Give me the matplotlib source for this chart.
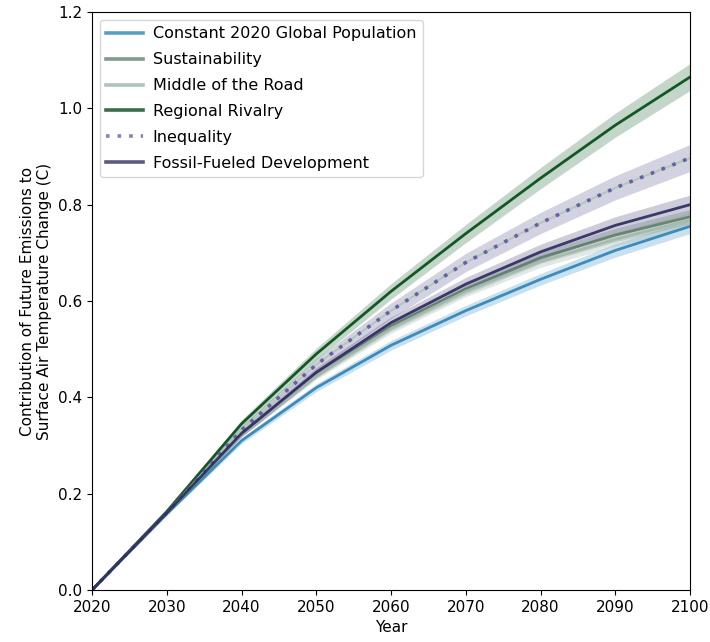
import matplotlib
matplotlib.use("Agg")
import matplotlib.pyplot as plt
from matplotlib.lines import Line2D
import numpy as np

years = [2020, 2030, 2040, 2050, 2060, 2070, 2080, 2090, 2100]

constant_pop = [0.0, 0.158, 0.310, 0.420, 0.508, 0.580, 0.645, 0.705, 0.755]
sustainability = [0.0, 0.160, 0.325, 0.448, 0.548, 0.625, 0.690, 0.737, 0.775]
middle_road = [0.0, 0.160, 0.324, 0.445, 0.543, 0.620, 0.682, 0.728, 0.768]
regional_rivalry = [0.0, 0.163, 0.345, 0.490, 0.620, 0.740, 0.855, 0.965, 1.065]
inequality = [0.0, 0.161, 0.332, 0.468, 0.580, 0.680, 0.762, 0.835, 0.897]
fossil_fueled = [0.0, 0.160, 0.325, 0.452, 0.555, 0.635, 0.702, 0.757, 0.800]

# half-width of the uncertainty band around each scenario
constant_spread = [0.0, 0.003, 0.006, 0.008, 0.010, 0.011, 0.012, 0.014, 0.015]
sustainability_spread = [0.0, 0.003, 0.006, 0.008, 0.010, 0.011, 0.012, 0.014, 0.015]
middle_spread = [0.0, 0.003, 0.006, 0.008, 0.010, 0.011, 0.012, 0.014, 0.015]
rivalry_spread = [0.0, 0.004, 0.008, 0.012, 0.016, 0.019, 0.022, 0.025, 0.028]
inequality_spread = [0.0, 0.004, 0.008, 0.012, 0.016, 0.019, 0.022, 0.025, 0.028]
fossil_spread = [0.0, 0.003, 0.007, 0.010, 0.012, 0.014, 0.016, 0.018, 0.020]

labels = ["Constant 2020 Global Population", "Sustainability", "Middle of the Road",
          "Regional Rivalry", "Inequality", "Fossil-Fueled Development"]

# (values, spread, line colour, band colour, legend colour, dotted?)
series = [
    (constant_pop, constant_spread, "#2e82b6", "#4f9bc8", "#5a9ec6", False),
    (sustainability, sustainability_spread, "#5f7d6b", "#6f8c7c", "#849a8d", False),
    (middle_road, middle_spread, "#a3b9ad", "#9fb5a9", "#b0c4ba", False),
    (regional_rivalry, rivalry_spread, "#004a12", "#3d7a4e", "#3a6e48", False),
    (inequality, inequality_spread, "#5c569e", "#6f6c9e", "#8480b0", True),
    (fossil_fueled, fossil_spread, "#2b2860", "#5a5784", "#5c5a82", False),
]

fig = plt.figure(figsize=(7.1, 6.42), dpi=100)
ax = fig.add_axes([0.1296, 0.081, 0.8423, 0.9003])

x = np.array(years)
handles = []
for (vals, spread, color, band, legc, dotted), lab in zip(series, labels):
    v = np.array(vals)
    s = np.array(spread)
    ax.fill_between(x, v - s, v + s, color=band, alpha=0.3, linewidth=0)
    if dotted:
        ax.plot(x, v, color="#a8c4b0", lw=1.4, alpha=0.8)
        ax.plot(x, v, color=color, lw=2.6, ls=(0, (1, 2.2)), alpha=0.9)
        handles.append(Line2D([], [], color=legc, lw=2.6, ls=(0, (1, 2.2)), label=lab))
    else:
        ax.plot(x, v, color=color, lw=2.0, alpha=0.9)
        handles.append(Line2D([], [], color=legc, lw=2.6, label=lab))

ax.set_xlim(2020, 2100)
ax.set_ylim(0, 1.2)
ax.set_xticks(np.arange(2020, 2101, 10))
ax.set_yticks(np.arange(0, 1.21, 0.2))
ax.tick_params(labelsize=11)
ax.set_xlabel("Year", fontsize=11)
ax.set_ylabel("Contribution of Future Emissions to\nSurface Air Temperature Change (C)", fontsize=11)
ax.legend(handles=handles, loc="upper left", fontsize=11.5, handlelength=2.3,
          handletextpad=0.6, labelspacing=0.68, borderaxespad=0.5)

fig.savefig("out.png", dpi=100)
